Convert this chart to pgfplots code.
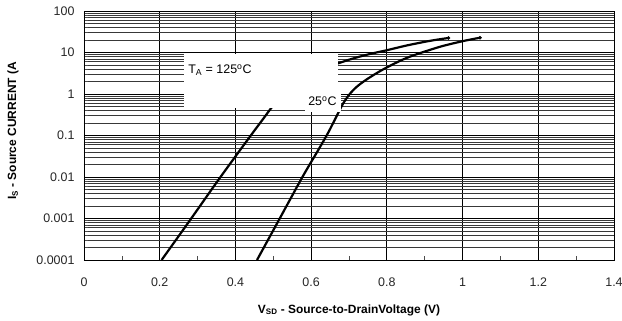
\documentclass[border=0pt]{standalone}
\usepackage{pgfplots}
\pgfplotsset{compat=1.18}
\usepackage{fontspec}
\setmainfont{Liberation Sans}

% Forward diode characteristic, source current vs. source-to-drain voltage
\pgfplotstableread{
V      I
0.205  1.0e-4
0.280  9.1e-4
0.355  8.5e-3
0.430  0.074
0.470  0.229
0.505  0.60
0.550  1.5
0.600  2.9
0.640  4.3
0.672  5.5
0.705  6.92
0.738  8.41
0.770  9.89
0.800  11.35
0.850  14.6
0.896  17.8
0.930  20.2
0.963  22.4
}\hotcurve

\pgfplotstableread{
V      I
0.457  1.0e-4
0.517  1.0e-3
0.577  1.0e-2
0.619  0.045
0.645  0.117
0.668  0.302
0.685  0.60
0.702  1.0
0.720  1.48
0.740  2.04
0.760  2.69
0.780  3.47
0.800  4.37
0.835  6.31
0.870  8.51
0.941  13.8
1.002  18.9
1.046  22.7
}\roomcurve

\begin{document}
\begin{tikzpicture}
\useasboundingbox (-84bp,-61bp) rectangle (538bp,260bp);
\begin{axis}[
  at={(0,0)}, anchor=south west,
  scale only axis, width=530bp, height=249bp,
  xmin=0, xmax=1.4, ymin=1e-4, ymax=100, ymode=log,
  xtick={0,0.2,0.4,0.6,0.8,1.0,1.2,1.4},
  xticklabels={0,0.2,0.4,0.6,0.8,1,1.2,1.4},
  minor xtick={0.1,0.3,0.5,0.7,0.9,1.1,1.3},
  ytick={1e-4,1e-3,1e-2,1e-1,1,10,100},
  yticklabels={0.0001,0.001,0.01,0.1,1,10,100},
  minor ytick={2e-4,3e-4,4e-4,5e-4,6e-4,7e-4,8e-4,9e-4,
               2e-3,3e-3,4e-3,5e-3,6e-3,7e-3,8e-3,9e-3,
               0.02,0.03,0.04,0.05,0.06,0.07,0.08,0.09,
               0.2,0.3,0.4,0.5,0.6,0.7,0.8,0.9,
               2,3,4,5,6,7,8,9,
               20,30,40,50,60,70,80,90},
  xmajorgrids, ymajorgrids, yminorgrids,
  major grid style={black, line width=0.9bp},
  minor grid style={black!78, line width=0.75bp},
  tick pos=left, tick align=inside,
  major tick length=0pt, minor tick length=4bp,
  minor tick style={black!70, line width=0.7bp},
  axis line style={black, line width=0.9bp},
  tick label style={font=\fontsize{12.5}{14}\selectfont, text=black!85},
  xticklabel style={yshift=-14bp},
  yticklabel style={xshift=-6bp},
]
\addplot[black, line width=2.2bp, smooth, tension=0.5] table[x=V, y=I] {\hotcurve};
\addplot[black, line width=2.2bp, smooth, tension=0.5] table[x=V, y=I] {\roomcurve};
\addplot[only marks, mark=*, mark size=1.6bp, black] coordinates {(0.963,22.4) (1.046,22.7)};

% label boxes
\fill[white] (axis cs:0.264,9.3) rectangle (axis cs:0.671,0.46);
\fill[white] (axis cs:0.584,1.25) rectangle (axis cs:0.679,0.37);
\node[anchor=west, inner sep=0pt, font=\fontsize{12.5}{14}\selectfont]
  at (axis cs:0.275,3.8) {T\textsubscript{A} = 125\textsuperscript{o}C};
\node[anchor=west, inner sep=0pt, font=\fontsize{12.5}{14}\selectfont]
  at (axis cs:0.592,0.68) {25\textsuperscript{o}C};
\end{axis}
\node[font=\bfseries\fontsize{12}{14}\selectfont] at (265bp,-50bp)
  {V\textsubscript{SD} - Source-to-DrainVoltage (V)};
\node[rotate=90, font=\bfseries\fontsize{12}{14}\selectfont] at (-71bp,129bp)
  {I\textsubscript{S} - Source CURRENT (A};
\end{tikzpicture}
\end{document}
